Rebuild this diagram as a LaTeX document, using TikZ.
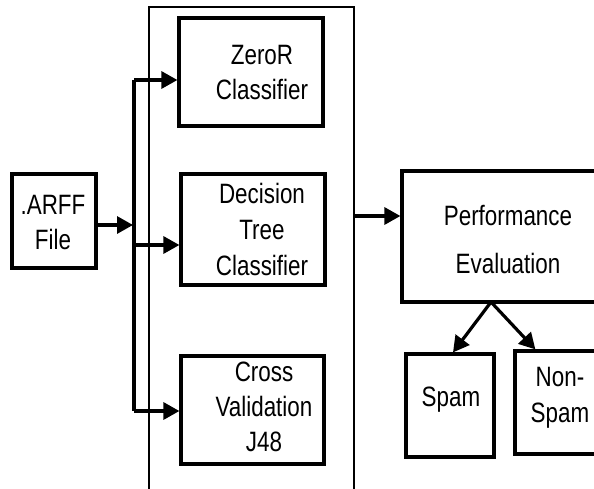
\documentclass[tikz,border=0pt]{standalone}
\usepackage{fontspec}
\setmainfont{Liberation Sans}[FakeStretch=0.8]
\usetikzlibrary{arrows.meta}
\begin{document}
\begin{tikzpicture}[x=1pt,y=-1pt,
  box/.style={draw, line width=3.2pt, inner sep=0pt},
  lbl/.style={anchor=north, inner sep=0pt, align=center, font=\fontsize{28}{35}\selectfont},
  arr/.style={line width=3.2pt, -{Triangle[length=16pt,width=17pt]}},
  ln/.style={line width=3.2pt},
  frame/.style={line width=2.6pt}]
\useasboundingbox (0,0) rectangle (594,488);
% container
\draw[frame] (149,500) -- (149,7) -- (354,7) -- (354,500);
% boxes
\node[box, minimum width=84pt, minimum height=94pt] (arff) at (54,221) {};
\node[box, minimum width=144pt, minimum height=108pt] (zr) at (251,72) {};
\node[box, minimum width=144pt, minimum height=111pt] (dt) at (253,229.5) {};
\node[box, minimum width=143pt, minimum height=108pt] (cv) at (252.5,410) {};
\node[box, minimum width=198pt, minimum height=131pt] (perf) at (501,236.5) {};
\node[box, minimum width=88pt, minimum height=103pt] (spam) at (450,405.5) {};
\node[box, minimum width=85pt, minimum height=103pt] (ns) at (557.5,402.5) {};
% labels
\node[lbl] (arfft) at (53,195) {.ARFF\\File};
\node[lbl] (zrt) at (262,45) {ZeroR\\Classifier};
\node[lbl, font=\fontsize{28}{36}\selectfont] (dtt) at (262,183) {Decision\\Tree\\Classifier};
\node[lbl] (cvt) at (264,362) {Cross\\Validation\\J48};
\node[lbl, font=\fontsize{28}{48}\selectfont] (perft) at (508,205) {Performance\\Evaluation};
\node[lbl] (spamt) at (451,387) {Spam};
\node[lbl, font=\fontsize{28}{36}\selectfont] (nst) at (560,367) {Non-\\Spam};
% connectors
\coordinate (j) at (133,225);
\coordinate (bt) at (134,80);
\coordinate (bm) at (134,245);
\coordinate (bb) at (134,411);
\draw[arr] (arff.east |- j) -- (j);
\draw[ln] (bt) -- (bb);
\draw[arr] (bt) -- (zr.west |- bt);
\draw[arr] (bm) -- (dt.west |- bm);
\draw[arr] (bb) -- (cv.west |- bb);
\coordinate (cout) at (354,216);
\draw[arr] (cout) -- (perf.west |- cout);
\coordinate (pd) at (491,302);
\draw[arr] (pd) -- ([xshift=3pt]spam.north);
\draw[arr] (pd) -- ([xshift=22pt]ns.north west);
\end{tikzpicture}
\end{document}
